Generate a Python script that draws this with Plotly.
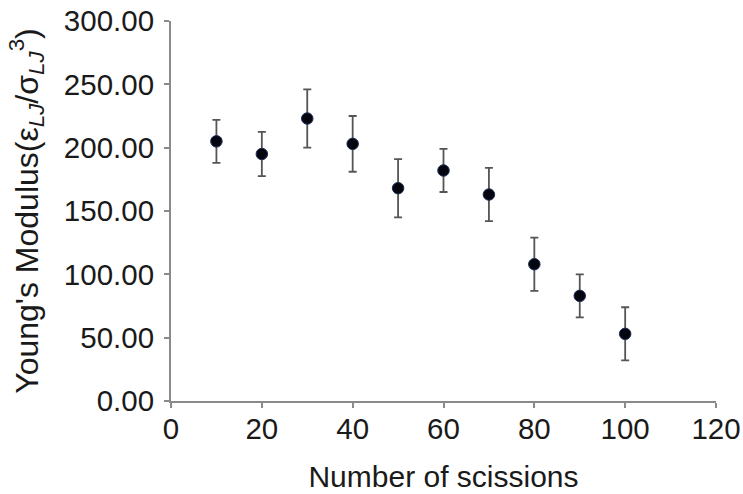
import plotly.graph_objects as go

# Data
scissions = [10, 20, 30, 40, 50, 60, 70, 80, 90, 100]
modulus = [205, 195, 223, 203, 168, 182, 163, 108, 83, 53]
modulus_err = [17, 17.5, 23, 22, 23, 17, 21, 21, 17, 21]

x_ticks = [0, 20, 40, 60, 80, 100, 120]
y_ticks = [0, 50, 100, 150, 200, 250, 300]

FONT = "Liberation Sans, Arial, Helvetica, sans-serif"
TEXT = "#1a1a1a"
AXIS = "#8a8a8a"

fig = go.Figure()
fig.add_trace(
    go.Scatter(
        x=scissions,
        y=modulus,
        mode="markers",
        marker=dict(size=11.5, color="#050510", line=dict(color="#1c2d55", width=1)),
        error_y=dict(
            type="data",
            array=modulus_err,
            visible=True,
            color="#555555",
            thickness=1.8,
            width=4,
        ),
        showlegend=False,
    )
)

fig.update_layout(
    width=743,
    height=494,
    paper_bgcolor="white",
    plot_bgcolor="white",
    margin=dict(l=171, r=27, t=21, b=93, autoexpand=False),
    font=dict(family=FONT, size=29, color=TEXT),
)

fig.update_xaxes(
    range=[0, 120],
    tickvals=x_ticks,
    ticktext=[str(v) for v in x_ticks],
    showgrid=False,
    zeroline=False,
    showline=True,
    linecolor=AXIS,
    linewidth=2,
    ticks="outside",
    ticklen=5,
    tickwidth=2,
    tickcolor=AXIS,
    tickfont=dict(family=FONT, size=29.5, color=TEXT),
    ticklabelstandoff=-4,
    ticklabeloverflow="allow",
    title=dict(text="Number of scissions", font=dict(family=FONT, size=30, color=TEXT), standoff=22),
    automargin=False,
)
fig.update_yaxes(
    range=[0, 300],
    tickvals=y_ticks,
    tickformat=".2f",
    showgrid=False,
    zeroline=False,
    showline=True,
    linecolor=AXIS,
    linewidth=2,
    ticks="outside",
    ticklen=5,
    tickwidth=2,
    tickcolor=AXIS,
    tickfont=dict(family=FONT, size=29.5, color=TEXT),
    ticklabelstandoff=4,
    ticklabeloverflow="allow",
    title=dict(
        text="Young's Modulus(ε<sub><i>LJ</i></sub>/σ<sub><i>LJ</i></sub><sup>3</sup>)",
        font=dict(family=FONT, size=32, color=TEXT),
        standoff=16,
    ),
    automargin=False,
)

# remove the browser's default 8px body margin so the figure fills the window exactly
fig.write_html(
    "out.html",
    config={"displayModeBar": False},
    post_script="document.body.style.margin='0';document.documentElement.style.overflow='hidden';",
)
